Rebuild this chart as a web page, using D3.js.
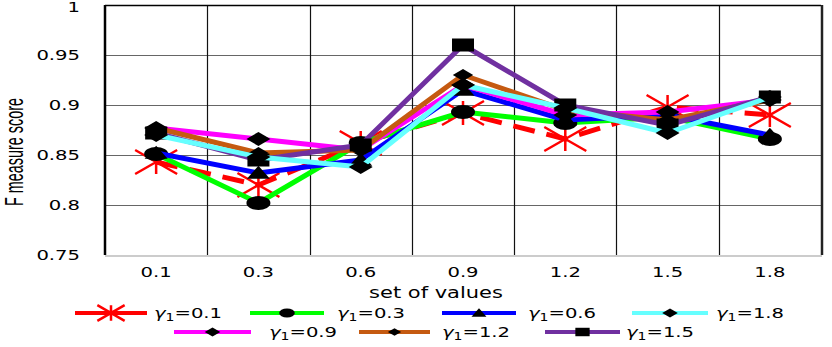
<!DOCTYPE html>
<html><head><meta charset="utf-8">
<script src="https://cdn.jsdelivr.net/npm/d3@7"></script>
<style>html,body{margin:0;padding:0;background:#fff;}svg{display:block;}</style>
</head><body>
<svg id="chart" width="832" height="347"></svg>
<script>
// ---- data ----
const categories = ["0.1", "0.3", "0.6", "0.9", "1.2", "1.5", "1.8"];
const yTicks = [0.75, 0.8, 0.85, 0.9, 0.95, 1];
const yTickLabels = ["0.75", "0.8", "0.85", "0.9", "0.95", "1"];
const gamma01 = [0.843, 0.820, 0.862, 0.892, 0.866, 0.898, 0.890];
const gamma03 = [0.851, 0.802, 0.862, 0.893, 0.882, 0.888, 0.866];
const gamma06 = [0.852, 0.832, 0.845, 0.915, 0.885, 0.890, 0.870];
const gamma18 = [0.870, 0.848, 0.838, 0.920, 0.897, 0.872, 0.908];
const gamma09 = [0.877, 0.866, 0.855, 0.920, 0.890, 0.893, 0.905];
const gamma12 = [0.877, 0.852, 0.855, 0.930, 0.895, 0.885, 0.905];
const gamma15 = [0.872, 0.845, 0.860, 0.960, 0.900, 0.880, 0.908];
const seriesLabels = ["0.1", "0.3", "0.6", "1.8", "0.9", "1.2", "1.5"];

const series = [
  {label: "0.1", values: gamma01, color: "#ff0000", marker: "star", dash: "22,12"},
  {label: "0.3", values: gamma03, color: "#00ff00", marker: "ellipse"},
  {label: "0.6", values: gamma06, color: "#0000ff", marker: "triangle"},
  {label: "1.8", values: gamma18, color: "#66ffff", marker: "diamond"},
  {label: "0.9", values: gamma09, color: "#ff00ff", marker: "diamond"},
  {label: "1.2", values: gamma12, color: "#c55a11", marker: "smalldiamond"},
  {label: "1.5", values: gamma15, color: "#7030a0", marker: "square"}
];
const drawOrder = ["0.1", "0.3", "0.6", "0.9", "1.2", "1.5", "1.8"];

// ---- layout ----
const svg = d3.select("#chart");
const L = 105, R = 821, T = 5, B = 255;
const SX = 1.4;
const FONT = "'DejaVu Sans', Verdana, sans-serif";

const x = d3.scaleBand().domain(categories).range([L, R]);
const xc = c => x(c) + x.bandwidth() / 2;
const y = d3.scaleLinear().domain([0.75, 1]).range([B, T]);

function sText(g, px, py, str, anchor, size) {
  return g.append("text")
    .attr("transform", `translate(${px},${py}) scale(${SX},1)`)
    .attr("text-anchor", anchor)
    .attr("font-family", FONT)
    .attr("font-size", size)
    .attr("fill", "#000")
    .text(str);
}

// gridlines
const grid = svg.append("g");
grid.selectAll("line.h").data(yTicks.filter(v => v > 0.75 && v < 1)).enter().append("line")
  .attr("x1", L).attr("x2", R).attr("y1", d => Math.round(y(d)) + 0.5).attr("y2", d => Math.round(y(d)) + 0.5)
  .attr("stroke", "#666").attr("stroke-width", 1);
grid.selectAll("line.v").data(categories.slice(1)).enter().append("line")
  .attr("x1", d => Math.round(x(d)) + 0.5).attr("x2", d => Math.round(x(d)) + 0.5)
  .attr("y1", T).attr("y2", B)
  .attr("stroke", "#111").attr("stroke-width", 1.2);
// frame
grid.append("line").attr("x1", L).attr("x2", R).attr("y1", T + 0.5).attr("y2", T + 0.5).attr("stroke", "#000").attr("stroke-width", 1.5);
grid.append("line").attr("x1", L).attr("x2", R + 1).attr("y1", B + 1).attr("y2", B + 1).attr("stroke", "#ccc").attr("stroke-width", 2);
grid.append("line").attr("x1", L).attr("x2", L).attr("y1", T).attr("y2", B).attr("stroke", "#000").attr("stroke-width", 2.5);
grid.append("line").attr("x1", R + 1).attr("x2", R + 1).attr("y1", T).attr("y2", B).attr("stroke", "#222").attr("stroke-width", 2.5);

// y tick labels
const yAx = svg.append("g");
yTicks.forEach((v, i) => sText(yAx, 80, Math.max(y(v) + 5, 12), yTickLabels[i], "end", 14));
// x tick labels
const xAx = svg.append("g");
categories.forEach(c => sText(xAx, xc(c), 277, c, "middle", 14));
// axis titles
sText(svg, 436, 298, "set of values", "middle", 15);
const yTitle = svg.append("text")
  .attr("text-anchor", "middle")
  .attr("font-family", "'Liberation Sans Narrow', 'Liberation Sans', sans-serif")
  .attr("font-size", 26)
  .attr("fill", "#000")
  .text("F measure score");
const natural = yTitle.node().getComputedTextLength() || 170;
const kx = 108 / natural;
yTitle.attr("transform", `translate(23,152) rotate(-90) scale(${kx},1)`);

// markers
function drawMarker(g, type, cx, cy, s, color) {
  if (type === "star") {
    const w = 21 * s, h = 12 * s;
    g.append("path")
      .attr("d", `M${cx - w},${cy - h}L${cx + w},${cy + h}M${cx + w},${cy - h}L${cx - w},${cy + h}M${cx},${cy - h}L${cx},${cy + h}`)
      .attr("stroke", color).attr("stroke-width", 2.5).attr("fill", "none");
  } else if (type === "ellipse") {
    g.append("ellipse").attr("cx", cx).attr("cy", cy).attr("rx", 12 * s).attr("ry", 7 * s).attr("fill", "#000");
  } else if (type === "triangle") {
    const w = 11.5 * s, h = 13 * s;
    g.append("path").attr("d", `M${cx},${cy - h * 0.55}L${cx + w},${cy + h * 0.45}L${cx - w},${cy + h * 0.45}Z`).attr("fill", "#000");
  } else if (type === "diamond" || type === "smalldiamond") {
    const k = type === "diamond" ? 1 : 0.85;
    const w = 12 * s * k, h = 7 * s * k;
    g.append("path").attr("d", `M${cx},${cy - h}L${cx + w},${cy}L${cx},${cy + h}L${cx - w},${cy}Z`).attr("fill", "#000");
  } else if (type === "square") {
    const w = 11 * s, h = 6.5 * s;
    g.append("rect").attr("x", cx - w).attr("y", cy - h).attr("width", 2 * w).attr("height", 2 * h).attr("fill", "#000");
  }
}

// series
const plot = svg.append("g");
const line = d3.line().x((d, i) => xc(categories[i])).y(d => y(d));
drawOrder.forEach(lab => {
  const s = series.find(q => q.label === lab);
  const g = plot.append("g");
  g.append("path").attr("d", line(s.values)).attr("fill", "none")
    .attr("stroke", s.color).attr("stroke-width", 5)
    .attr("stroke-dasharray", s.dash || null).attr("stroke-linejoin", "round");
  s.values.forEach((v, i) => drawMarker(g, s.marker, xc(categories[i]), y(v), 1, s.marker === "star" ? s.color : "#000"));
});

// legend
const legendPos = [
  {x1: 75, x2: 147, tx: 154, y: 313},
  {x1: 250, x2: 324, tx: 337, y: 313},
  {x1: 442, x2: 516, tx: 528, y: 313},
  {x1: 632, x2: 708, tx: 716, y: 313},
  {x1: 174, x2: 251, tx: 269, y: 332},
  {x1: 359, x2: 430, tx: 442, y: 332},
  {x1: 545, x2: 620, tx: 626, y: 332}
];
const leg = svg.append("g");
seriesLabels.forEach((lab, i) => {
  const s = series.find(q => q.label === lab);
  const p = legendPos[i];
  leg.append("line").attr("x1", p.x1).attr("x2", p.x2).attr("y1", p.y).attr("y2", p.y)
    .attr("stroke", s.color).attr("stroke-width", 4);
  drawMarker(leg, s.marker, (p.x1 + p.x2) / 2, p.y, 0.65, s.marker === "star" ? s.color : "#000");
  const t = leg.append("text")
    .attr("transform", `translate(${p.tx},${p.y + 5}) scale(${SX},1)`)
    .attr("font-family", FONT).attr("font-size", 14).attr("fill", "#000");
  t.append("tspan").attr("font-style", "italic").text("\u03b3");
  t.append("tspan").attr("font-size", 10).attr("dy", 3).text("1");
  t.append("tspan").attr("dy", -3).text("=" + lab);
});
</script>
</body></html>
